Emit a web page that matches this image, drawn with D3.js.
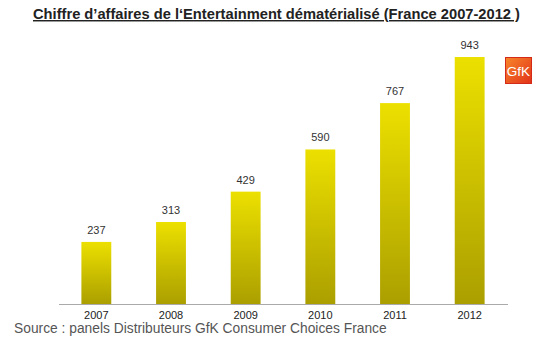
<!DOCTYPE html>
<html><head><meta charset="utf-8">
<script src="https://cdn.jsdelivr.net/npm/d3@7"></script>
<style>body{margin:0;background:#fff}svg{display:block;font-family:"Liberation Sans",Arial,sans-serif}</style>
</head><body>
<script>
const years = ["2007","2008","2009","2010","2011","2012"];
const values = [237, 313, 429, 590, 767, 943];
const title = "Chiffre d’affaires de l‘Entertainment dématérialisé (France 2007-2012 )";
const source = "Source : panels Distributeurs GfK Consumer Choices France";

const W = 550, H = 346;
const svg = d3.select("body").append("svg").attr("width", W).attr("height", H);
const defs = svg.append("defs");
const g = defs.append("linearGradient").attr("id","barG").attr("x1",0).attr("y1",0).attr("x2",0).attr("y2",1);
g.append("stop").attr("offset","0%").attr("stop-color","#ece000");
g.append("stop").attr("offset","100%").attr("stop-color","#ab9f00");
const lg = defs.append("linearGradient").attr("id","logoG").attr("x1",0).attr("y1",0).attr("x2",1).attr("y2",1);
lg.append("stop").attr("offset","0%").attr("stop-color","#f7862a");
lg.append("stop").attr("offset","100%").attr("stop-color","#e2321a");

const x = d3.scaleBand().domain(years).range([59, 507]).paddingInner(0.6).paddingOuter(0.3);
const y = d3.scaleLinear().domain([0, 943]).range([304, 57]);

// title
svg.append("text").attr("x", 33).attr("y", 19)
  .attr("font-size", 14.6).attr("font-weight", "bold").attr("fill", "#222")
  .attr("textLength", 487).attr("lengthAdjust", "spacingAndGlyphs")
  .attr("text-decoration", "underline").text(title);

// bars
svg.selectAll("rect.bar").data(values).enter().append("rect").attr("class","bar")
  .attr("x", (d,i) => x(years[i])).attr("width", x.bandwidth())
  .attr("y", d => y(d)).attr("height", d => y(0) - y(d))
  .attr("fill", "url(#barG)");

// value labels
svg.selectAll("text.val").data(values).enter().append("text").attr("class","val")
  .attr("x", (d,i) => x(years[i]) + x.bandwidth()/2).attr("y", d => y(d) - 8)
  .attr("text-anchor","middle").attr("font-size", 11).attr("fill","#333").text(d => d);

// axis
const ax = svg.append("g").attr("transform", "translate(0,304)")
  .call(d3.axisBottom(x).tickSize(0).tickPadding(7));
ax.select(".domain").attr("stroke", "#aaa").attr("d", "M59,0.5H508");
ax.selectAll("text").attr("font-size", 11).attr("fill", "#222").attr("font-family", "Liberation Sans, Arial, sans-serif");

// source
svg.append("text").attr("x", 14).attr("y", 333).attr("font-size", 13.8).attr("fill", "#555").text(source);

// logo
const logo = svg.append("g").attr("transform","translate(505.5,57.5)");
logo.append("rect").attr("width", 26).attr("height", 26).attr("fill","url(#logoG)").attr("stroke","#d42a18").attr("stroke-width",1);
logo.append("text").attr("x", 13).attr("y", 18.5).attr("text-anchor","middle").attr("font-size", 13.5)
  .attr("fill","#fff").attr("font-family","Liberation Sans, Arial, sans-serif").text("GfK");
</script>
</body></html>
